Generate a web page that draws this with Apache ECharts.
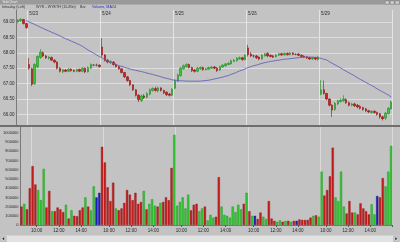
<!DOCTYPE html>
<html><head><meta charset="utf-8">
<script src="https://cdn.jsdelivr.net/npm/echarts@6/dist/echarts.min.js"></script>
<style>html,body{margin:0;padding:0;background:#c3c3c3;}#c{width:400px;height:242px;}</style>
</head><body><div id="c"></div>
<script>
// ---- data ----
const days = ['5/22','5/23','5/24','5/25','5/26','5/29'];
const times = ['09:30','09:45','10:00','10:15','10:30','10:45','11:00','11:15','11:30','11:45','12:00','12:15','12:30','12:45','13:00','13:15','13:30','13:45','14:00','14:15','14:30','14:45','15:00','15:15','15:30','15:45'];
const firstDayBars = 4;
const priceTicks = [66,66.5,67,67.5,68,68.5,69];
const volumeTicks = [0,100000,200000,300000,400000,500000,600000,700000,800000,900000,1000000];
const timeLabels = ['10:00','12:00','14:00'];

const opens = [
69.00,69.04,69.08,68.95,
67.62,67.48,67.00,67.55,67.85,68.00,67.90,67.82,67.85,67.76,67.70,67.50,67.38,67.44,67.40,67.47,67.43,67.40,67.46,67.40,67.50,67.38,67.50,67.60,67.60,67.60,
68.19,67.93,67.76,67.68,67.70,67.62,67.55,67.48,67.36,67.22,67.10,66.96,66.80,66.62,66.45,66.60,66.56,66.66,66.78,66.84,66.76,66.86,66.78,66.72,66.66,66.62,
66.85,67.08,67.26,67.48,67.55,67.62,67.52,67.44,67.40,67.48,67.52,67.45,67.47,67.50,67.54,67.50,67.44,67.54,67.58,67.62,67.64,67.72,67.74,67.80,67.84,67.78,
68.16,67.96,67.90,67.90,67.86,67.80,67.90,67.98,67.92,67.90,67.87,67.92,67.97,67.93,67.98,67.94,67.99,67.95,67.96,67.92,67.89,67.87,67.84,67.80,67.84,67.78,
66.66,66.80,66.68,66.50,66.30,66.16,66.34,66.42,66.44,66.48,66.38,66.30,66.34,66.30,66.26,66.22,66.18,66.12,66.06,66.10,66.06,66.02,65.92,65.88,66.02,66.18];
const closes = [
69.06,69.09,68.95,68.82,
67.50,66.98,67.62,67.88,68.02,67.90,67.84,67.86,67.76,67.70,67.50,67.40,67.45,67.40,67.47,67.42,67.40,67.46,67.40,67.50,67.38,67.52,67.62,67.60,67.60,67.55,
67.93,67.75,67.70,67.72,67.62,67.55,67.48,67.36,67.22,67.10,66.96,66.80,66.62,66.48,66.60,66.55,66.68,66.80,66.84,66.78,66.86,66.78,66.70,66.64,66.62,66.82,
67.10,67.28,67.50,67.58,67.62,67.52,67.42,67.40,67.50,67.52,67.45,67.48,67.52,67.54,67.50,67.42,67.55,67.60,67.64,67.66,67.74,67.76,67.82,67.84,67.78,67.92,
67.94,67.90,67.90,67.84,67.80,67.92,67.96,67.90,67.88,67.86,67.93,67.97,67.93,67.98,67.94,67.99,67.95,67.95,67.92,67.88,67.86,67.83,67.80,67.84,67.80,67.86,
66.80,66.68,66.50,66.30,66.14,66.36,66.44,66.46,66.50,66.38,66.30,66.34,66.28,66.24,66.20,66.16,66.12,66.08,66.10,66.06,66.00,65.92,65.86,66.04,66.20,66.40];
const highs = [
69.10,69.12,69.10,68.98,
67.83,67.52,67.66,67.92,68.12,68.05,67.93,67.90,67.88,67.79,67.72,67.53,67.48,67.47,67.50,67.50,67.46,67.49,67.49,67.53,67.52,67.56,67.66,67.63,67.65,67.63,
68.48,67.96,67.80,67.76,67.73,67.65,67.58,67.50,67.38,67.25,67.12,66.98,66.82,66.66,66.64,66.66,66.72,66.84,66.88,66.90,66.90,66.88,66.80,66.75,66.70,66.85,
67.14,67.32,67.54,67.62,67.66,67.65,67.55,67.48,67.55,67.56,67.55,67.51,67.55,67.57,67.57,67.54,67.58,67.63,67.67,67.70,67.78,67.80,67.86,67.88,67.87,67.96,
68.26,68.02,67.94,67.93,67.88,67.96,68.00,68.02,67.95,67.93,67.96,68.00,68.00,68.01,68.01,68.03,68.02,67.98,67.99,67.95,67.92,67.90,67.87,67.87,67.87,67.90,
67.12,67.10,66.70,66.52,66.33,66.40,66.48,66.52,66.62,66.52,66.42,66.38,66.38,66.34,66.30,66.25,66.21,66.15,66.14,66.13,66.09,66.05,65.96,66.08,66.24,66.45];
const lows = [
68.96,69.00,68.92,68.78,
67.45,66.92,66.96,67.50,67.80,67.86,67.80,67.78,67.73,67.66,67.46,67.36,67.34,67.37,67.37,67.39,67.37,67.37,67.37,67.37,67.34,67.36,67.48,67.57,67.56,67.52,
67.86,67.72,67.66,67.64,67.58,67.52,67.45,67.33,67.18,67.06,66.92,66.76,66.58,66.40,66.40,66.50,66.52,66.62,66.74,66.74,66.72,66.74,66.66,66.60,66.58,66.60,
66.82,67.05,67.22,67.45,67.52,67.49,67.38,67.36,67.37,67.45,67.42,67.43,67.45,67.48,67.47,67.38,67.41,67.51,67.55,67.60,67.62,67.70,67.72,67.78,67.74,67.76,
67.88,67.86,67.84,67.80,67.76,67.78,67.88,67.86,67.85,67.83,67.85,67.90,67.90,67.91,67.91,67.92,67.92,67.92,67.89,67.85,67.83,67.80,67.77,67.77,67.76,67.75,
66.62,66.64,66.46,66.26,65.92,66.12,66.30,66.38,66.40,66.34,66.26,66.26,66.24,66.20,66.16,66.12,66.08,66.04,66.02,66.02,65.96,65.86,65.80,65.82,66.00,66.15];
// volume in thousands of shares
const volumes = [
200,230,170,400,
640,440,380,270,610,190,370,150,150,190,170,140,220,70,160,100,95,160,190,300,200,160,420,300,350,850,
680,410,260,460,180,160,180,240,380,330,270,350,230,250,370,170,230,280,210,200,240,250,300,270,620,980,
210,250,300,180,330,160,220,230,150,180,200,50,110,80,90,520,200,110,100,80,200,140,220,170,230,350,
150,100,100,65,135,90,65,260,70,45,35,50,35,45,45,35,45,45,60,55,55,55,80,100,105,90,
580,320,380,530,840,300,260,580,200,125,260,135,135,115,235,180,150,115,225,115,315,300,510,420,580,860];
// 1 = up, -1 = down, 0 = unchanged
const volDir = [
-1,1,-1,-1,
-1,-1,1,1,1,-1,-1,1,-1,-1,-1,-1,1,-1,1,-1,-1,-1,-1,1,-1,1,1,0,0,-1,
-1,-1,-1,-1,1,-1,-1,-1,-1,-1,-1,-1,-1,-1,1,-1,1,1,1,-1,1,-1,-1,-1,-1,1,
1,1,1,1,1,-1,-1,-1,1,1,-1,1,1,1,-1,-1,1,1,1,1,1,1,1,1,-1,1,
-1,1,0,-1,-1,1,1,-1,-1,-1,1,1,-1,1,-1,1,-1,0,-1,-1,-1,-1,-1,1,-1,1,
1,-1,-1,-1,-1,1,1,1,1,-1,-1,-1,1,-1,-1,-1,-1,-1,1,1,0,-1,-1,1,1,1];
const ma24 = [
null,null,null,69.05,
69.00,68.96,68.92,68.88,68.83,68.79,68.75,68.71,68.67,68.63,68.59,68.55,68.50,68.46,68.42,68.38,68.34,68.30,68.26,68.21,68.15,68.09,68.04,67.99,67.93,67.88,
67.83,67.78,67.74,67.69,67.66,67.62,67.58,67.56,67.53,67.50,67.47,67.45,67.43,67.41,67.39,67.37,67.34,67.32,67.30,67.27,67.25,67.22,67.19,67.17,67.15,67.12,
67.11,67.10,67.09,67.09,67.08,67.08,67.08,67.08,67.08,67.08,67.09,67.10,67.11,67.13,67.15,67.17,67.19,67.21,67.24,67.26,67.30,67.33,67.37,67.41,67.44,67.48,
67.52,67.55,67.58,67.60,67.63,67.66,67.68,67.70,67.72,67.73,67.75,67.76,67.78,67.79,67.80,67.81,67.82,67.83,67.84,67.85,67.86,67.86,67.86,67.86,67.85,67.84,
67.82,67.79,67.77,67.71,67.66,67.61,67.56,67.51,67.45,67.40,67.35,67.30,67.25,67.19,67.14,67.09,67.04,66.99,66.94,66.89,66.83,66.78,66.73,66.68,66.63,66.57];

// ---- build ----
const cats = [];
days.forEach((d, k) => {
  const ts = k === 0 ? times.slice(times.length - firstDayBars) : times;
  ts.forEach(t => cats.push(d + ' ' + t));
});
const isDayStart = (i, v) => v.endsWith('09:30');
const isTimeLabel = (i, v) => timeLabels.indexOf(v.split(' ')[1]) >= 0;

const candleData = opens.map((o, i) => [o, closes[i], lows[i], highs[i]]);
const volColors = {'1': '#32c832', '-1': '#c81e1e', '0': '#1e1ec8'};
const volBorders = {'1': '#1f8f1f', '-1': '#8a1212', '0': '#101080'};
const volData = volumes.map((v, i) => ({
  value: v * 1000,
  itemStyle: {color: volColors[volDir[i]], borderColor: volBorders[volDir[i]], borderWidth: 0.4}
}));

const FONT = 'Liberation Sans, Arial, sans-serif';
const chart = echarts.init(document.getElementById('c'));
const L = 16.5, W = 376;
chart.setOption({
  animation: false,
  backgroundColor: '#c3c3c3',
  textStyle: {fontFamily: FONT},
  grid: [
    {left: L, width: W, top: 10, height: 115},
    {left: L, width: W, top: 127, height: 98}
  ],
  xAxis: [
    {gridIndex: 0, type: 'category', data: cats, position: 'top', boundaryGap: true,
     axisLine: {show: false}, axisTick: {show: false},
     axisLabel: {show: true, inside: true, interval: isDayStart, formatter: v => v.split(' ')[0],
                 fontSize: 4.5, color: '#2a2a2a', align: 'left', verticalAlign: 'top', margin: 1.5, fontFamily: FONT},
     splitLine: {show: true, interval: isDayStart, lineStyle: {color: '#e4e4e4', width: 1}}},
    {gridIndex: 1, type: 'category', data: cats, position: 'bottom', boundaryGap: true,
     axisLine: {show: true, lineStyle: {color: '#7a7a7a', width: 1}},
     axisTick: {show: true, interval: isTimeLabel, length: 2, lineStyle: {color: '#555'}},
     axisLabel: {show: true, interval: isTimeLabel, formatter: v => v.split(' ')[1],
                 fontSize: 4.5, color: '#2a2a2a', margin: 3, padding: [0, 2.8, 0, 0], fontFamily: FONT},
     splitLine: {show: true, interval: isDayStart, lineStyle: {color: '#dadada', width: 1}}}
  ],
  yAxis: [
    {gridIndex: 0, type: 'value', min: 65.656, max: 69.39, scale: true,
     axisLine: {show: true, lineStyle: {color: '#7a7a7a'}},
     axisTick: {show: false, customValues: priceTicks},
     axisLabel: {customValues: priceTicks, formatter: v => v.toFixed(2), fontSize: 4.5, color: '#2a2a2a', margin: 2, fontFamily: FONT},
     splitLine: {show: true, lineStyle: {color: '#dedede', width: 1}}},
    {gridIndex: 1, type: 'value', min: 0, max: 1065000,
     axisLine: {show: true, lineStyle: {color: '#7a7a7a'}},
     axisTick: {show: false, customValues: volumeTicks},
     axisLabel: {customValues: volumeTicks, formatter: v => String(v), fontSize: 4, color: '#2a2a2a', margin: 1.5, fontFamily: FONT},
     splitLine: {show: false}}
  ],
  series: [
    {type: 'candlestick', xAxisIndex: 0, yAxisIndex: 0, data: candleData, barWidth: 2,
     itemStyle: {color: '#34cc34', color0: '#d02020', borderColor: '#1e8a1e', borderColor0: '#8a1010',
                 borderColorDoji: '#404040', borderWidth: 0.6}},
    {type: 'line', xAxisIndex: 0, yAxisIndex: 0, data: ma24, symbol: 'none', showSymbol: false,
     lineStyle: {color: '#6262bc', width: 0.9}, z: 3},
    {type: 'bar', xAxisIndex: 1, yAxisIndex: 1, data: volData, barWidth: 2.2}
  ],
  graphic: [
    {type: 'rect', left: 0, top: 0, shape: {width: 400, height: 4.5}, style: {fill: '#9a9a9a'}, z: 10},
    {type: 'text', left: 2, top: 0.4, style: {text: 'TeleChart', fontSize: 3.6, fill: '#ececec', fontFamily: FONT}, z: 11},
    {type: 'rect', left: 385, top: 0.8, shape: {width: 4, height: 3}, style: {fill: '#d4d4d4', stroke: '#666', lineWidth: 0.4}, z: 11},
    {type: 'rect', left: 390, top: 0.8, shape: {width: 4, height: 3}, style: {fill: '#d4d4d4', stroke: '#666', lineWidth: 0.4}, z: 11},
    {type: 'rect', left: 395, top: 0.8, shape: {width: 4, height: 3}, style: {fill: '#d4d4d4', stroke: '#666', lineWidth: 0.4}, z: 11},
    {type: 'text', left: 2, top: 5.3, style: {text: 'Intraday (Left)', fontSize: 3.7, fill: '#333', fontFamily: FONT}, z: 11},
    {type: 'text', left: 36, top: 5.3, style: {text: 'WYE - WYETH (15-Min)', fontSize: 3.7, fill: '#333', fontFamily: FONT}, z: 11},
    {type: 'text', left: 80, top: 5.3, style: {text: 'Bar', fontSize: 3.7, fill: '#333', fontFamily: FONT}, z: 11},
    {type: 'text', left: 92, top: 5.3, style: {text: 'Volume, MA24', fontSize: 3.7, fill: '#2a2ac8', fontFamily: FONT}, z: 11},
    {type: 'rect', left: 0, top: 125, shape: {width: 400, height: 2}, style: {fill: '#6e6e6e'}, z: 10},
    {type: 'rect', left: 0, top: 235.5, shape: {width: 400, height: 6.5}, style: {fill: '#e2e2e2'}, z: 10},
    {type: 'rect', left: 0.5, top: 236, shape: {width: 5.5, height: 5.5}, style: {fill: '#d0d0d0', stroke: '#888', lineWidth: 0.4}, z: 11},
    {type: 'polygon', shape: {points: [[4.2, 237.3], [4.2, 240.3], [2.2, 238.8]]}, style: {fill: '#222'}, z: 12},
    {type: 'rect', left: 393.5, top: 236, shape: {width: 5.5, height: 5.5}, style: {fill: '#d0d0d0', stroke: '#888', lineWidth: 0.4}, z: 11},
    {type: 'polygon', shape: {points: [[395.3, 237.3], [395.3, 240.3], [397.3, 238.8]]}, style: {fill: '#222'}, z: 12}
  ]
});
</script></body></html>
